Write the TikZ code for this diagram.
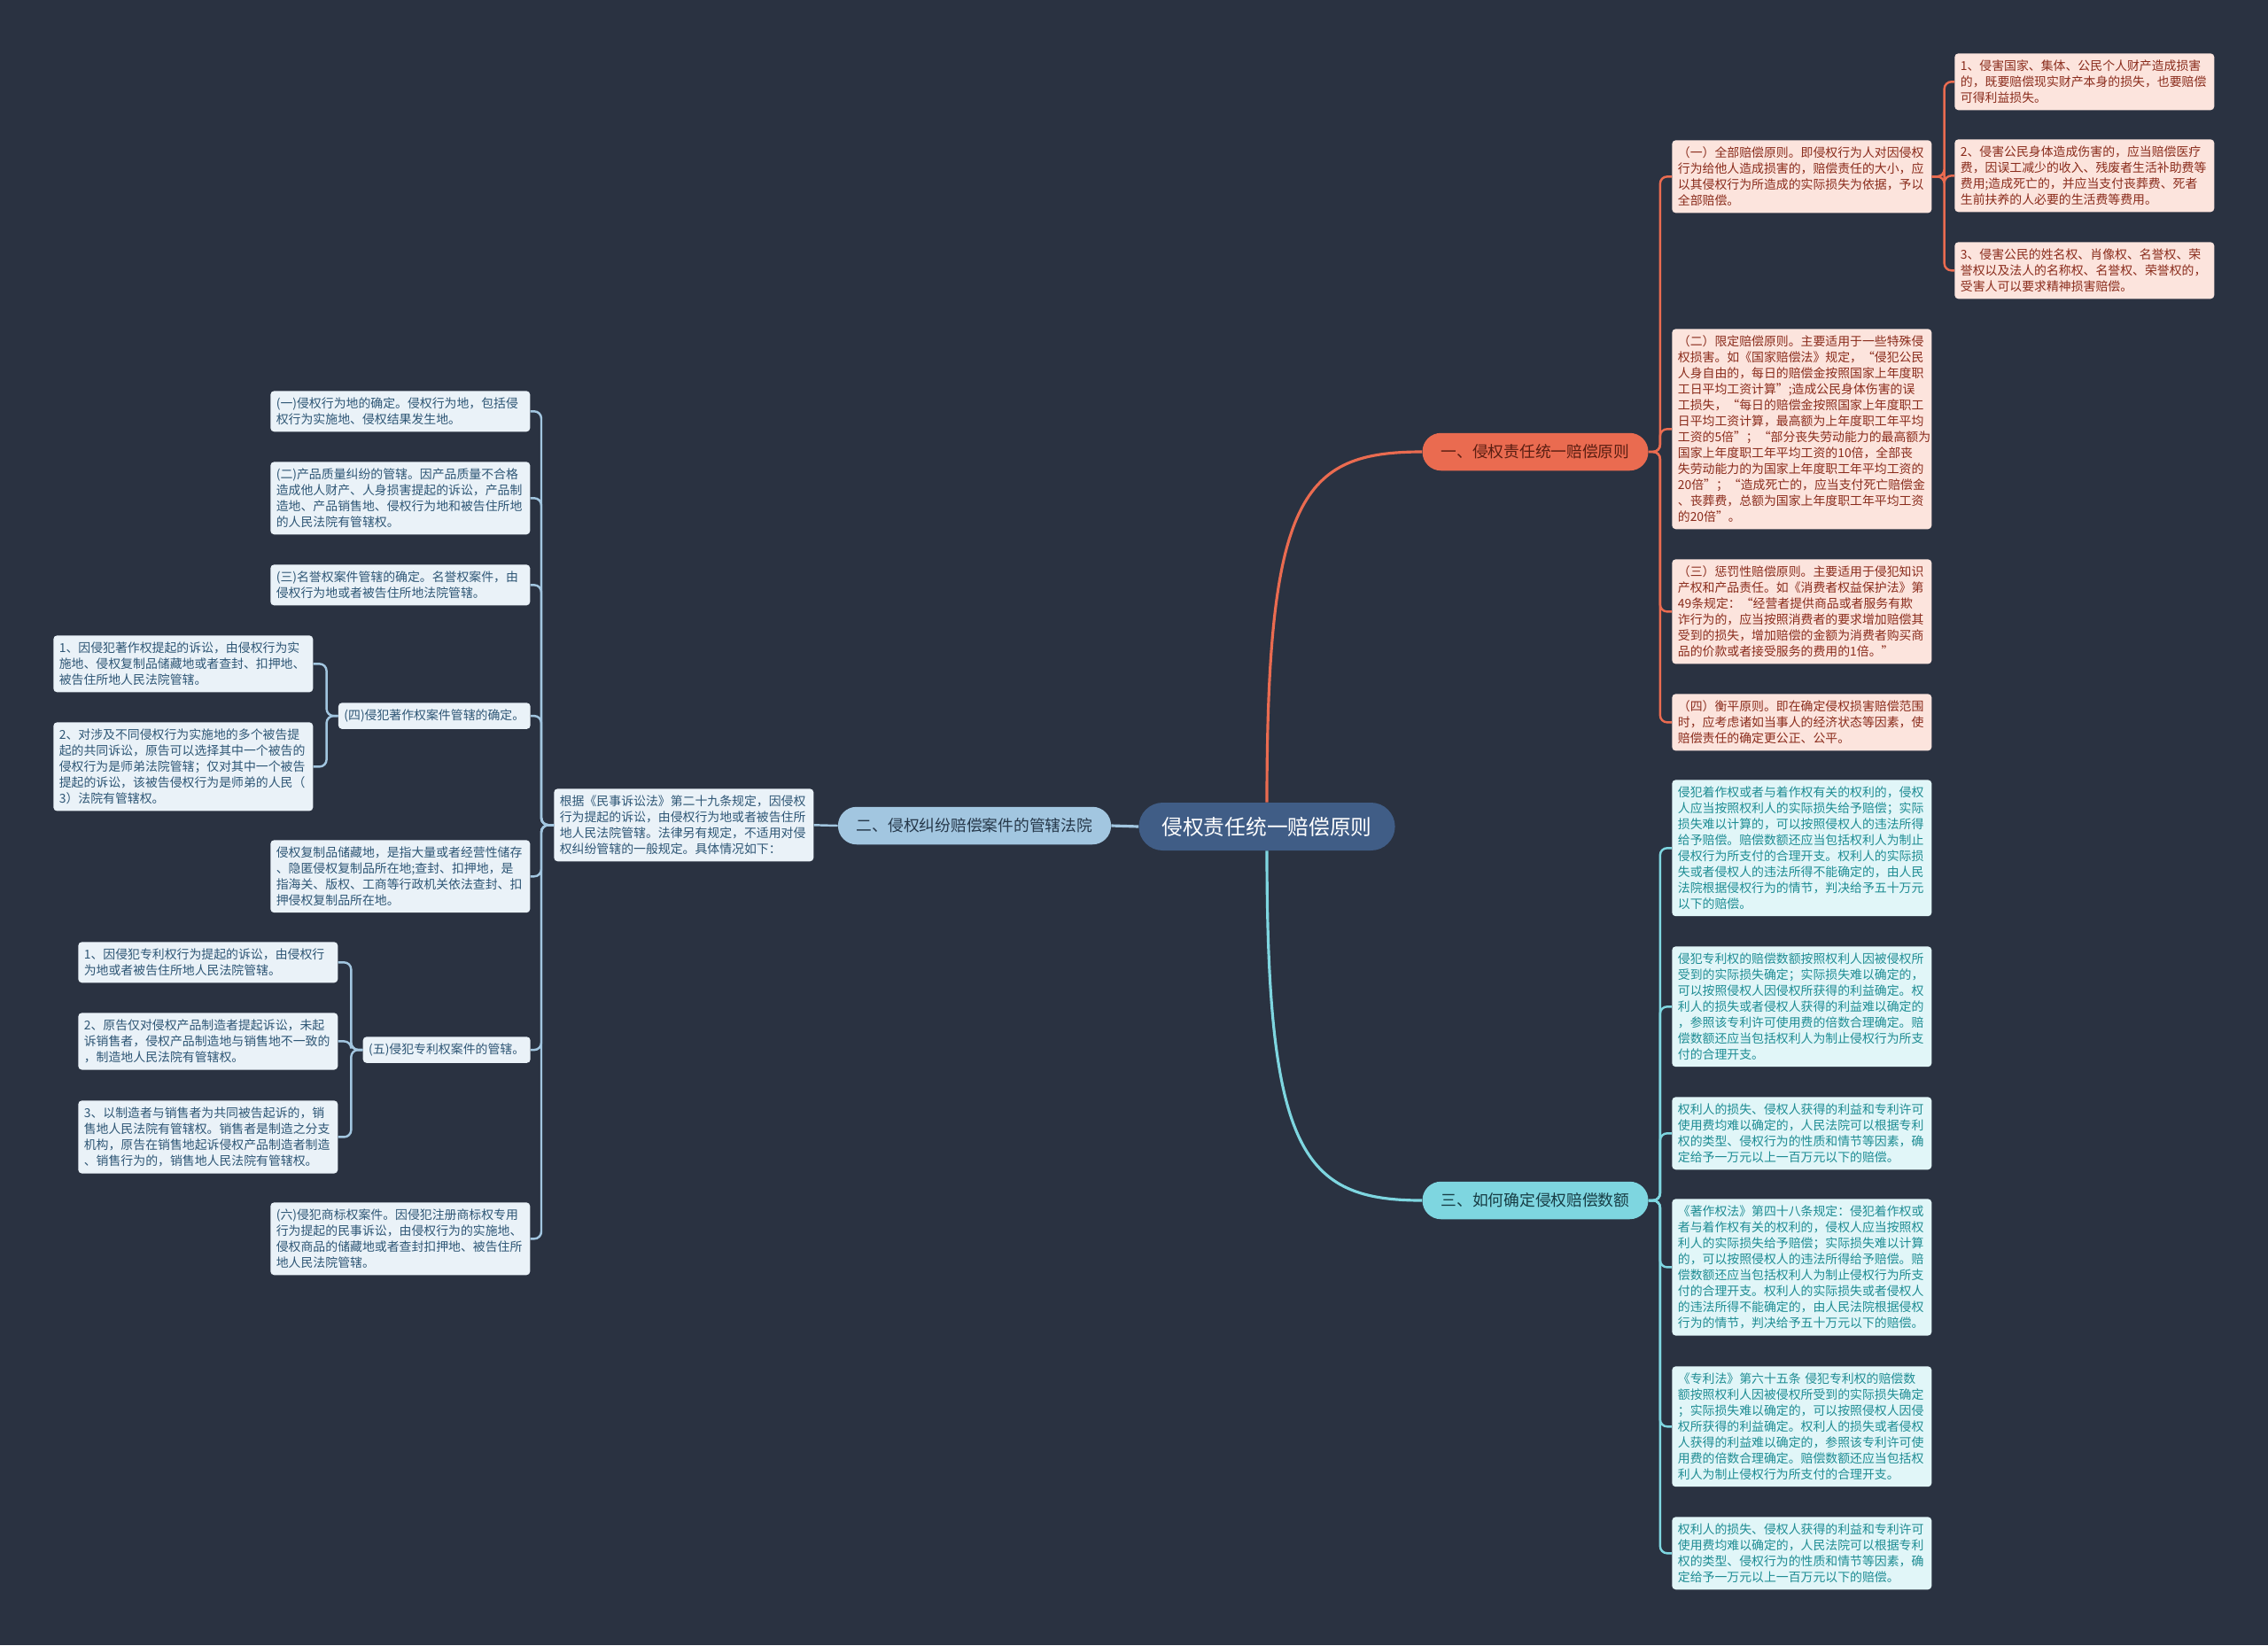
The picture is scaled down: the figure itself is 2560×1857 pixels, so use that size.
\documentclass[tikz,border=0pt]{standalone}
\usepackage{fontspec}
\setmainfont{Noto Sans CJK SC}
\usetikzlibrary{positioning}
\definecolor{cbg}{HTML}{2A3241}
\definecolor{chub}{HTML}{405D86}
\definecolor{corange}{HTML}{EA6B50}
\definecolor{cbrown}{HTML}{5A1E12}
\definecolor{cpink}{HTML}{FCE4DD}
\definecolor{cpinktxt}{HTML}{8A2C1C}
\definecolor{cblue}{HTML}{A2C6E0}
\definecolor{cbluetxt}{HTML}{26384A}
\definecolor{cleft}{HTML}{EAF2F8}
\definecolor{clefttxt}{HTML}{2E5675}
\definecolor{ccyan}{HTML}{7ED6E0}
\definecolor{ccyantxt}{HTML}{173C44}
\definecolor{cteal}{HTML}{E1F6F8}
\definecolor{ctealtxt}{HTML}{1E8C93}
\tikzset{
  hub/.style={fill=chub, text=white, rounded corners=0.54cm, minimum height=1.08cm, inner xsep=0.52cm, font=\fontsize{13.5}{16}\selectfont},
  mainbr/.style={fill=#1, rounded corners=0.42cm, minimum height=0.85cm, inner xsep=0.42cm, font=\fontsize{10.1}{12}\selectfont},
  box/.style={rounded corners=0.08cm, inner xsep=0.13cm, inner ysep=0.15cm, align=left, font=\fontsize{7.9}{10.24}\selectfont},
  pbox/.style={box, fill=cpink, text=cpinktxt, text width=5.6cm, anchor=north west},
  tbox/.style={box, fill=cteal, text=ctealtxt, text width=5.6cm, anchor=north west},
  lbox/.style={box, fill=cleft, text=clefttxt, text width=5.6cm, anchor=north west},
  sbox/.style={box, fill=cleft, text=clefttxt, anchor=north east},
  olink/.style={draw=corange, line width=1.4pt, rounded corners=0.16cm},
  blink/.style={draw=cblue, line width=1.4pt, rounded corners=0.16cm},
  clink/.style={draw=ccyan, line width=1.4pt, rounded corners=0.16cm},
}
\begin{document}
\begin{tikzpicture}[x=0.02cm, y=-0.02cm]
  \fill[cbg] (0,0) rectangle (2560,1857);
  \useasboundingbox (0,0) rectangle (2560,1857);

  % centre and the three branches
  \node[hub] (c) at (1430,933) {侵权责任统一赔偿原则};
  \node[mainbr=corange, text=cbrown] (b1) at (1733,510) {一、侵权责任统一赔偿原则};
  \node[mainbr=cblue, text=cbluetxt] (b2) at (1100,932) {二、侵权纠纷赔偿案件的管辖法院};
  \node[mainbr=ccyan, text=ccyantxt] (b3) at (1733,1355) {三、如何确定侵权赔偿数额};

  % branch one
  \node[pbox] (a1) at (1887,158) {（一）全部赔偿原则。即侵权行为人对因侵权\\行为给他人造成损害的，赔偿责任的大小，应\\以其侵权行为所造成的实际损失为依据，予以\\全部赔偿。};
  \node[pbox] (s1) at (2206,60) {1、侵害国家、集体、公民个人财产造成损害\\的，既要赔偿现实财产本身的损失，也要赔偿\\可得利益损失。};
  \node[pbox] (s2) at (2206,157) {2、侵害公民身体造成伤害的，应当赔偿医疗\\费，因误工减少的收入、残废者生活补助费等\\费用;造成死亡的，并应当支付丧葬费、死者\\生前扶养的人必要的生活费等费用。};
  \node[pbox] (s3) at (2206,273) {3、侵害公民的姓名权、肖像权、名誉权、荣\\誉权以及法人的名称权、名誉权、荣誉权的，\\受害人可以要求精神损害赔偿。};
  \node[pbox] (a2) at (1887,371) {（二）限定赔偿原则。主要适用于一些特殊侵\\权损害。如《国家赔偿法》规定，“侵犯公民\\人身自由的，每日的赔偿金按照国家上年度职\\工日平均工资计算”;造成公民身体伤害的误\\工损失，“每日的赔偿金按照国家上年度职工\\日平均工资计算，最高额为上年度职工年平均\\工资的5倍”；“部分丧失劳动能力的最高额为\\国家上年度职工年平均工资的10倍，全部丧\\失劳动能力的为国家上年度职工年平均工资的\\20倍”；“造成死亡的，应当支付死亡赔偿金\\、丧葬费，总额为国家上年度职工年平均工资\\的20倍”。};
  \node[pbox] (a3) at (1887,631) {（三）惩罚性赔偿原则。主要适用于侵犯知识\\产权和产品责任。如《消费者权益保护法》第\\49条规定：“经营者提供商品或者服务有欺\\诈行为的，应当按照消费者的要求增加赔偿其\\受到的损失，增加赔偿的金额为消费者购买商\\品的价款或者接受服务的费用的1倍。”};
  \node[pbox] (a4) at (1887,783) {（四）衡平原则。即在确定侵权损害赔偿范围\\时，应考虑诸如当事人的经济状态等因素，使\\赔偿责任的确定更公正、公平。};

  % branch three
  \node[tbox] (t1) at (1887,880) {侵犯着作权或者与着作权有关的权利的，侵权\\人应当按照权利人的实际损失给予赔偿；实际\\损失难以计算的，可以按照侵权人的违法所得\\给予赔偿。赔偿数额还应当包括权利人为制止\\侵权行为所支付的合理开支。权利人的实际损\\失或者侵权人的违法所得不能确定的，由人民\\法院根据侵权行为的情节，判决给予五十万元\\以下的赔偿。};
  \node[tbox] (t2) at (1887,1068) {侵犯专利权的赔偿数额按照权利人因被侵权所\\受到的实际损失确定；实际损失难以确定的，\\可以按照侵权人因侵权所获得的利益确定。权\\利人的损失或者侵权人获得的利益难以确定的\\，参照该专利许可使用费的倍数合理确定。赔\\偿数额还应当包括权利人为制止侵权行为所支\\付的合理开支。};
  \node[tbox] (t3) at (1887,1238) {权利人的损失、侵权人获得的利益和专利许可\\使用费均难以确定的，人民法院可以根据专利\\权的类型、侵权行为的性质和情节等因素，确\\定给予一万元以上一百万元以下的赔偿。};
  \node[tbox] (t4) at (1887,1353) {《著作权法》第四十八条规定：侵犯着作权或\\者与着作权有关的权利的，侵权人应当按照权\\利人的实际损失给予赔偿；实际损失难以计算\\的，可以按照侵权人的违法所得给予赔偿。赔\\偿数额还应当包括权利人为制止侵权行为所支\\付的合理开支。权利人的实际损失或者侵权人\\的违法所得不能确定的，由人民法院根据侵权\\行为的情节，判决给予五十万元以下的赔偿。};
  \node[tbox] (t5) at (1887,1542) {《专利法》第六十五条~侵犯专利权的赔偿数\\额按照权利人因被侵权所受到的实际损失确定\\；实际损失难以确定的，可以按照侵权人因侵\\权所获得的利益确定。权利人的损失或者侵权\\人获得的利益难以确定的，参照该专利许可使\\用费的倍数合理确定。赔偿数额还应当包括权\\利人为制止侵权行为所支付的合理开支。};
  \node[tbox] (t6) at (1887,1712) {权利人的损失、侵权人获得的利益和专利许可\\使用费均难以确定的，人民法院可以根据专利\\权的类型、侵权行为的性质和情节等因素，确\\定给予一万元以上一百万元以下的赔偿。};

  % branch two
  \node[lbox] (r0) at (625,890) {根据《民事诉讼法》第二十九条规定，因侵权\\行为提起的诉讼，由侵权行为地或者被告住所\\地人民法院管辖。法律另有规定，不适用对侵\\权纠纷管辖的一般规定。具体情况如下：};
  \node[lbox] (l1) at (305,441) {(一)侵权行为地的确定。侵权行为地，包括侵\\权行为实施地、侵权结果发生地。};
  \node[lbox] (l2) at (305,521) {(二)产品质量纠纷的管辖。因产品质量不合格\\造成他人财产、人身损害提起的诉讼，产品制\\造地、产品销售地、侵权行为地和被告住所地\\的人民法院有管辖权。};
  \node[lbox] (l3) at (305,637) {(三)名誉权案件管辖的确定。名誉权案件，由\\侵权行为地或者被告住所地法院管辖。};
  \node[sbox] (l4) at (599,793) {(四)侵犯著作权案件管辖的确定。};
  \node[lbox] (l4a) at (60,717) {1、因侵犯著作权提起的诉讼，由侵权行为实\\施地、侵权复制品储藏地或者查封、扣押地、\\被告住所地人民法院管辖。};
  \node[lbox] (l4b) at (60,815) {2、对涉及不同侵权行为实施地的多个被告提\\起的共同诉讼，原告可以选择其中一个被告的\\侵权行为是师弟法院管辖；仅对其中一个被告\\提起的诉讼，该被告侵权行为是师弟的人民（\\3）法院有管辖权。};
  \node[lbox] (l5) at (305,948) {侵权复制品储藏地，是指大量或者经营性储存\\、隐匿侵权复制品所在地;查封、扣押地，是\\指海关、版权、工商等行政机关依法查封、扣\\押侵权复制品所在地。};
  \node[sbox] (l6) at (599,1170) {(五)侵犯专利权案件的管辖。};
  \node[lbox] (l6a) at (88,1063) {1、因侵犯专利权行为提起的诉讼，由侵权行\\为地或者被告住所地人民法院管辖。};
  \node[lbox] (l6b) at (88,1143) {2、原告仅对侵权产品制造者提起诉讼，未起\\诉销售者，侵权产品制造地与销售地不一致的\\，制造地人民法院有管辖权。};
  \node[lbox] (l6c) at (88,1242) {3、以制造者与销售者为共同被告起诉的，销\\售地人民法院有管辖权。销售者是制造之分支\\机构，原告在销售地起诉侵权产品制造者制造\\、销售行为的，销售地人民法院有管辖权。};
  \node[lbox] (l7) at (305,1357) {(六)侵犯商标权案件。因侵犯注册商标权专用\\行为提起的民事诉讼，由侵权行为的实施地、\\侵权商品的储藏地或者查封扣押地、被告住所\\地人民法院管辖。};

  % connectors
  \draw[corange, line width=1.8pt] (c.north) .. controls (1430,560) and (1470,510) .. (b1.west);
  \draw[ccyan, line width=1.8pt] (c.south) .. controls (1430,1300) and (1470,1355) .. (b3.west);
  \draw[cblue, line width=1.8pt] (c.west) -- (b2.east);
  \draw[blink] (b2.west) -- (r0.east);
  \foreach \k in {a1,a2,a3,a4} \draw[olink] (b1.east) -- ++(13,0) |- (\k.west);
  \foreach \k in {s1,s2,s3} \draw[olink] (a1.east) -- ++(14,0) |- (\k.west);
  \foreach \k in {t1,t2,t3,t4,t5,t6} \draw[clink] (b3.east) -- ++(13,0) |- (\k.west);
  \foreach \k in {l1,l2,l3,l4,l5,l6,l7} \draw[blink] (r0.west) -- ++(-14,0) |- (\k.east);
  \foreach \k in {l4a,l4b} \draw[blink] (l4.west) -- ++(-13,0) |- (\k.east);
  \foreach \k in {l6a,l6b,l6c} \draw[blink] (l6.west) -- ++(-13,0) |- (\k.east);
\end{tikzpicture}
\end{document}
